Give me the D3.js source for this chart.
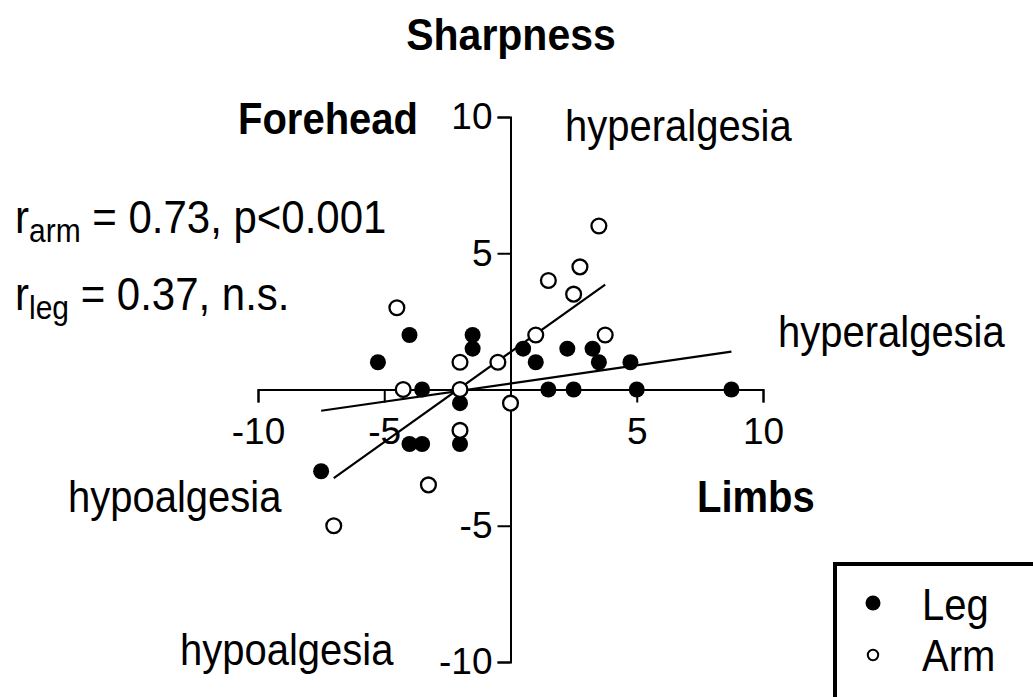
<!DOCTYPE html>
<html>
<head>
<meta charset="utf-8">
<script src="https://cdn.jsdelivr.net/npm/d3@7"></script>
<style>
  body { margin: 0; background: #fff; }
  svg { display: block; font-family: "Liberation Sans", Arial, sans-serif; }
</style>
</head>
<body>
<svg width="1033" height="697"></svg>
<script>
// data: x = limbs, y = forehead
const legX = [-4, -5.25, -1.5, -1.5, 0.5, 2.25, 3.25, 1, 3.5, 4.75, -3.5, -2, -2, -4, -3.5, -7.5, 1.5, 2.5, 5, 8.75];
const legY = [2, 1, 2, 1.5, 1.5, 1.5, 1.5, 1, 1, 1, 0, -0.5, -2, -2, -2, -3, 0, 0, 0, 0];
const armX = [-4.5, 3.5, 2.75, 1.5, 2.5, 1, 3.75, -2, -0.5, -4.25, -2, 0, -2, -3.25, -7];
const armY = [3, 6, 4.5, 4, 3.5, 2, 2, 1, 1, 0, 0, -0.5, -1.5, -3.5, -5];
// fitted lines as drawn (end points)
const armLineX = [-7, 3.75];
const armLineY = [-3.25, 3.85];
const legLineX = [-7.5, 8.75];
const legLineY = [-0.78, 1.39];
const tickVals = [-10, -5, 5, 10];

const svg = d3.select("svg");
const x = d3.scaleLinear().domain([-10, 10]).range([258, 763]);
const y = d3.scaleLinear().domain([-10, 10]).range([662, 117]);
const stretch = 1.1; // text in the reference is a bit taller than wide

// text placed at a baseline point, stretched vertically
function txt(parent, s, px, py, size, opts) {
  opts = opts || {};
  return parent.append("text")
    .attr("transform", "translate(" + px + "," + py + ") scale(1," + stretch + ")")
    .attr("text-anchor", opts.anchor || "start")
    .attr("font-size", size)
    .attr("font-weight", opts.bold ? "bold" : "normal")
    .text(s);
}

// Title
txt(svg, "Sharpness", 511, 50, 41, { anchor: "middle", bold: true });

// Axes crossing at origin
const xAxis = svg.append("g")
  .attr("transform", "translate(0," + y(0) + ")")
  .call(d3.axisBottom(x).tickValues(tickVals).tickFormat(function (d) { return String(d); })
    .tickSize(13).tickSizeOuter(13).tickPadding(15));
const yAxis = svg.append("g")
  .attr("transform", "translate(" + x(0) + ",0)")
  .call(d3.axisLeft(y).tickValues(tickVals).tickFormat(function (d) { return String(d); })
    .tickSize(13).tickSizeOuter(13).tickPadding(5));

[xAxis, yAxis].forEach(function (g) {
  g.attr("font-family", null).attr("font-size", 37);
  g.selectAll("path, line").attr("stroke", "#000").attr("stroke-width", 2);
  g.selectAll("text").attr("fill", "#000");
});
xAxis.selectAll("text").attr("dy", "0.72em");

// Regression lines
function drawLine(xs, ys) {
  svg.append("line")
    .attr("x1", x(xs[0])).attr("y1", y(ys[0]))
    .attr("x2", x(xs[1])).attr("y2", y(ys[1]))
    .attr("stroke", "#000").attr("stroke-width", 2.2);
}
drawLine(armLineX, armLineY);
drawLine(legLineX, legLineY);

// Points
svg.append("g")
  .selectAll("circle")
  .data(d3.range(legX.length))
  .enter()
  .append("circle")
  .attr("cx", function (i) { return x(legX[i]); })
  .attr("cy", function (i) { return y(legY[i]); })
  .attr("r", 8)
  .attr("fill", "#000");

svg.append("g")
  .selectAll("circle")
  .data(d3.range(armX.length))
  .enter()
  .append("circle")
  .attr("cx", function (i) { return x(armX[i]); })
  .attr("cy", function (i) { return y(armY[i]); })
  .attr("r", 7.4)
  .attr("fill", "#fff")
  .attr("stroke", "#000")
  .attr("stroke-width", 2.3);

// Labels
txt(svg, "Forehead", 418, 134, 40, { anchor: "end", bold: true });
txt(svg, "hyperalgesia", 565, 141, 40);
txt(svg, "hyperalgesia", 778, 347, 40);
txt(svg, "hypoalgesia", 68, 512, 40);
txt(svg, "Limbs", 697, 512, 40, { bold: true });
txt(svg, "hypoalgesia", 180, 665, 40);

// Correlation text
function corr(sub, rest, py) {
  const t = txt(svg, "", 15, py, 42);
  t.append("tspan").text("r");
  t.append("tspan").attr("font-size", 30).attr("dy", 8).text(sub);
  t.append("tspan").attr("dy", -8).text(rest);
}
corr("arm", " = 0.73, p<0.001", 233);
corr("leg", " = 0.37, n.s.", 310);

// Legend
const lg = svg.append("g");
lg.append("rect")
  .attr("x", 835).attr("y", 564)
  .attr("width", 240).attr("height", 200)
  .attr("fill", "#fff").attr("stroke", "#000").attr("stroke-width", 4);
lg.append("circle").attr("cx", 873).attr("cy", 603).attr("r", 7.5).attr("fill", "#000");
lg.append("circle").attr("cx", 873).attr("cy", 655).attr("r", 5.2)
  .attr("fill", "#fff").attr("stroke", "#000").attr("stroke-width", 2);
txt(lg, "Leg", 922, 620, 40);
txt(lg, "Arm", 922, 671, 40);
</script>
</body>
</html>
